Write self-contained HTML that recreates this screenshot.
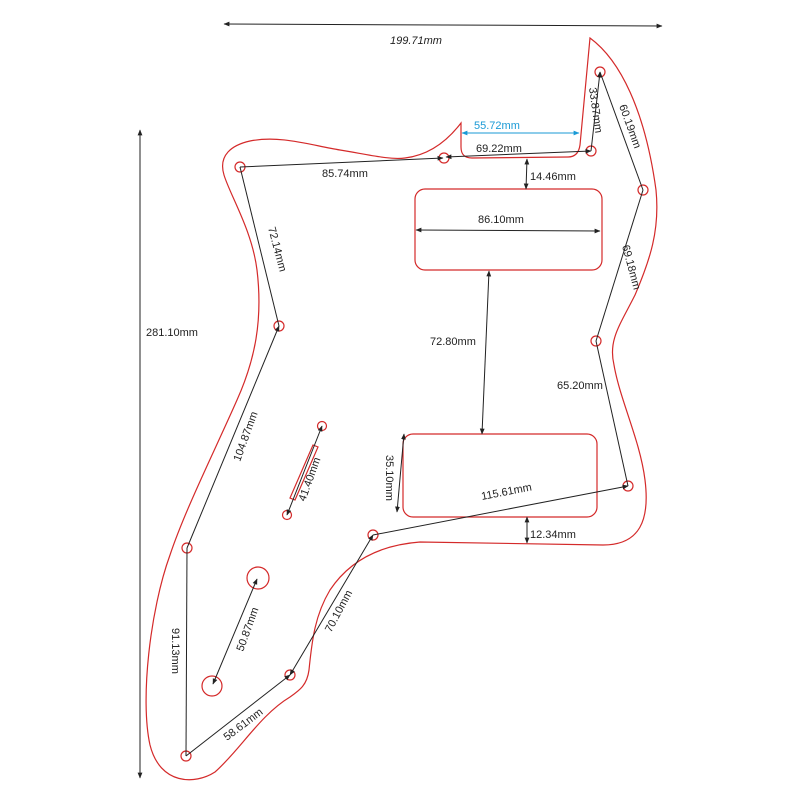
<!DOCTYPE html>
<html><head><meta charset="utf-8"><style>
html,body{margin:0;padding:0;background:#fff;width:800px;height:800px;overflow:hidden}
text{font-family:"Liberation Sans",sans-serif;font-size:11px;fill:#222}
</style></head><body>
<svg width="800" height="800" viewBox="0 0 800 800" xmlns="http://www.w3.org/2000/svg">
<defs>
<marker id="a" viewBox="0 0 10 10" refX="9" refY="5" markerWidth="6" markerHeight="6" orient="auto-start-reverse"><path d="M0,1 L10,5 L0,9 z" fill="#222"/></marker>
<marker id="b" viewBox="0 0 10 10" refX="9" refY="5" markerWidth="6" markerHeight="6" orient="auto-start-reverse"><path d="M0,1 L10,5 L0,9 z" fill="#1a9ad6"/></marker>
</defs>
<g fill="none" stroke="#d42a2a" stroke-width="1.2">
<path d="M590,38 C620,60 645,110 656,190 C660,230 650,260 635,295 C620,325 608,340 614,365 C620,400 640,440 645,480 C650,520 640,545 603,545 L420,542 C380,545 350,560 330,590 C315,615 312,640 309,670 C307,685 300,690 290,697 C260,715 240,750 215,772 C195,785 160,785 150,745 C140,700 150,610 170,555 C185,510 215,450 237,400 C255,360 263,320 257,270 C252,230 230,195 224,175 C218,155 232,145 250,141 C280,135 310,145 340,150 C370,155 390,160 405,158 C430,155 448,140 461,123 L461,147 C461,155 465,158 472,158 L568,157 C576,157 579,152 580,145 Z"/>
<rect x="415" y="189" width="187" height="81" rx="10"/>
<rect x="403" y="434" width="194" height="83" rx="10"/>
<circle cx="240" cy="167" r="5"/><circle cx="444" cy="158" r="5"/><circle cx="591" cy="151" r="5"/><circle cx="600" cy="72" r="5"/><circle cx="643" cy="190" r="5"/><circle cx="596" cy="341" r="5"/><circle cx="628" cy="486" r="5"/><circle cx="373" cy="535" r="5"/><circle cx="290" cy="675" r="5"/><circle cx="186" cy="756" r="5"/><circle cx="187" cy="548" r="5"/><circle cx="279" cy="326" r="5"/><circle cx="322" cy="426" r="4.5"/><circle cx="287" cy="515" r="4.5"/>
<circle cx="258" cy="578" r="11"/><circle cx="212" cy="686" r="10"/>
<path d="M313,445 L318,447 L295,500 L290,498 Z"/>
</g>
<g stroke="#222" stroke-width="1" fill="none">
<line x1="224" y1="24" x2="662" y2="26" marker-start="url(#a)" marker-end="url(#a)"/>
<line x1="140" y1="130" x2="140" y2="778" marker-start="url(#a)" marker-end="url(#a)"/>
<line x1="240" y1="167" x2="443" y2="158" marker-end="url(#a)"/>
<line x1="446" y1="157" x2="591" y2="151" marker-start="url(#a)" marker-end="url(#a)"/>
<line x1="591" y1="151" x2="600" y2="72" marker-end="url(#a)"/>
<line x1="600" y1="72" x2="643" y2="190"/>
<line x1="643" y1="190" x2="596" y2="341"/>
<line x1="596" y1="341" x2="628" y2="486"/>
<line x1="628" y1="486" x2="373" y2="535" marker-start="url(#a)"/>
<line x1="373" y1="535" x2="290" y2="675" marker-start="url(#a)" marker-end="url(#a)"/>
<line x1="290" y1="675" x2="186" y2="756" marker-start="url(#a)"/>
<line x1="186" y1="756" x2="187" y2="548"/>
<line x1="187" y1="548" x2="279" y2="326" marker-end="url(#a)"/>
<line x1="240" y1="167" x2="279" y2="326"/>
<line x1="287" y1="515" x2="322" y2="426" marker-start="url(#a)" marker-end="url(#a)"/>
<line x1="213" y1="684" x2="257" y2="579" marker-start="url(#a)" marker-end="url(#a)"/>
<line x1="416" y1="230" x2="600" y2="231" marker-start="url(#a)" marker-end="url(#a)"/>
<line x1="527" y1="159" x2="526" y2="189" marker-start="url(#a)" marker-end="url(#a)"/>
<line x1="489" y1="271" x2="482" y2="434" marker-start="url(#a)" marker-end="url(#a)"/>
<line x1="404" y1="434" x2="397" y2="512" marker-start="url(#a)" marker-end="url(#a)"/>
<line x1="527" y1="517" x2="527" y2="543" marker-start="url(#a)" marker-end="url(#a)"/>
</g>
<line x1="462" y1="133" x2="579" y2="133" stroke="#1a9ad6" stroke-width="1" marker-start="url(#b)" marker-end="url(#b)"/>
<text x="390" y="44" font-style="italic">199.71mm</text>
<text x="146" y="336">281.10mm</text>
<text x="474" y="129" style="fill:#1a9ad6">55.72mm</text>
<text x="476" y="152">69.22mm</text>
<text x="322" y="177">85.74mm</text>
<text x="530" y="180">14.46mm</text>
<text x="478" y="223">86.10mm</text>
<text x="430" y="345">72.80mm</text>
<text x="557" y="389">65.20mm</text>
<text x="530" y="538">12.34mm</text>
<text transform="translate(482,500) rotate(-11)">115.61mm</text>
<text transform="translate(589,88) rotate(82)">33.87mm</text>
<text transform="translate(619,106) rotate(70)">60.19mm</text>
<text transform="translate(622,246) rotate(75)">69.18mm</text>
<text transform="translate(268,228) rotate(75)">72.14mm</text>
<text transform="translate(240,462) rotate(-70)">104.87mm</text>
<text transform="translate(305,502) rotate(-70)">41.40mm</text>
<text transform="translate(386,455) rotate(90)">35.10mm</text>
<text transform="translate(331,633) rotate(-62)">70.10mm</text>
<text transform="translate(243,652) rotate(-70)">50.87mm</text>
<text transform="translate(172,628) rotate(90)">91.13mm</text>
<text transform="translate(227,741) rotate(-37)">58.61mm</text>
</svg>
</body></html>
